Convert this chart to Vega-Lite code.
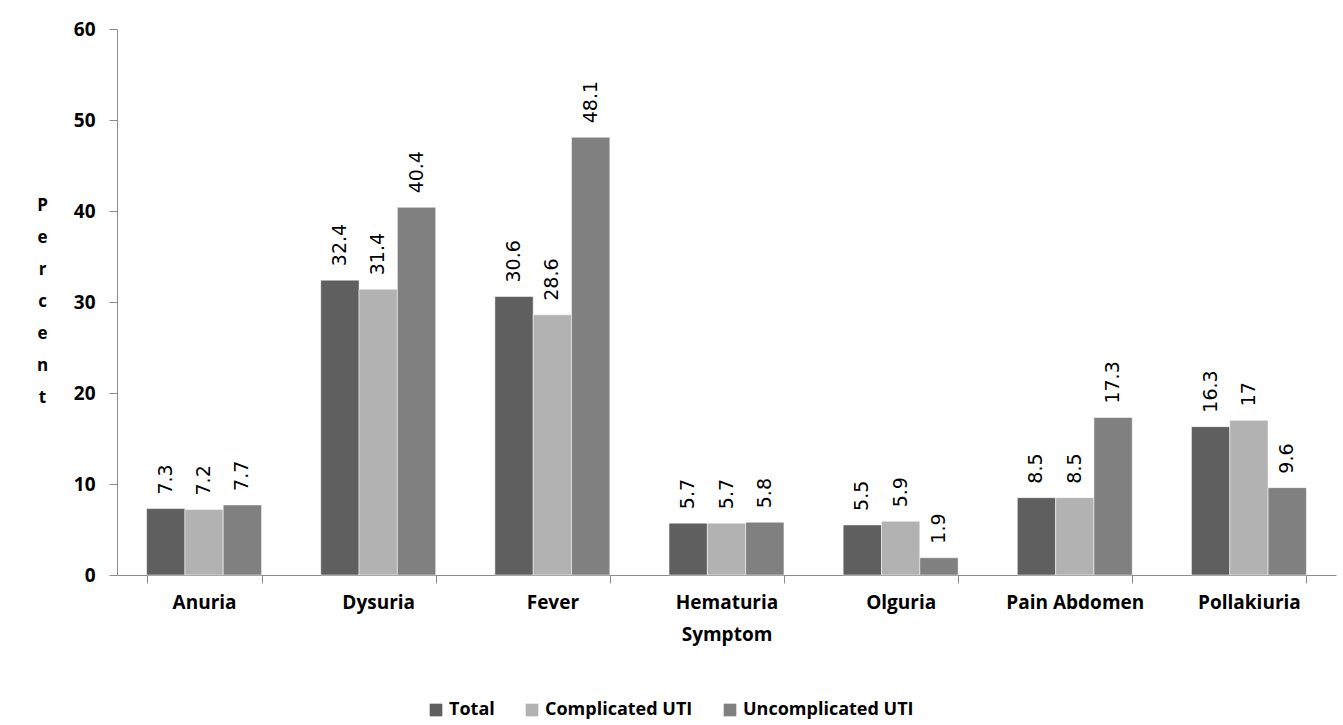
{
  "$schema": "https://vega.github.io/schema/vega-lite/v6.json",
  "autosize": "none",
  "width": 1219,
  "height": 546,
  "padding": {"left": 117, "top": 29, "right": 7, "bottom": 150},
  "background": "white",
  "config": {
    "view": {"stroke": null},
    "font": "Open Sans"
  },
  "data": {
    "values": [
      {"Symptom": "Anuria", "Group": "Total", "Percent": 7.3},
      {"Symptom": "Anuria", "Group": "Complicated UTI", "Percent": 7.2},
      {"Symptom": "Anuria", "Group": "Uncomplicated UTI", "Percent": 7.7},
      {"Symptom": "Dysuria", "Group": "Total", "Percent": 32.4},
      {"Symptom": "Dysuria", "Group": "Complicated UTI", "Percent": 31.4},
      {"Symptom": "Dysuria", "Group": "Uncomplicated UTI", "Percent": 40.4},
      {"Symptom": "Fever", "Group": "Total", "Percent": 30.6},
      {"Symptom": "Fever", "Group": "Complicated UTI", "Percent": 28.6},
      {"Symptom": "Fever", "Group": "Uncomplicated UTI", "Percent": 48.1},
      {"Symptom": "Hematuria", "Group": "Total", "Percent": 5.7},
      {"Symptom": "Hematuria", "Group": "Complicated UTI", "Percent": 5.7},
      {"Symptom": "Hematuria", "Group": "Uncomplicated UTI", "Percent": 5.8},
      {"Symptom": "Olguria", "Group": "Total", "Percent": 5.5},
      {"Symptom": "Olguria", "Group": "Complicated UTI", "Percent": 5.9},
      {"Symptom": "Olguria", "Group": "Uncomplicated UTI", "Percent": 1.9},
      {"Symptom": "Pain Abdomen", "Group": "Total", "Percent": 8.5},
      {"Symptom": "Pain Abdomen", "Group": "Complicated UTI", "Percent": 8.5},
      {"Symptom": "Pain Abdomen", "Group": "Uncomplicated UTI", "Percent": 17.3},
      {"Symptom": "Pollakiuria", "Group": "Total", "Percent": 16.3},
      {"Symptom": "Pollakiuria", "Group": "Complicated UTI", "Percent": 17},
      {"Symptom": "Pollakiuria", "Group": "Uncomplicated UTI", "Percent": 9.6}
    ]
  },
  "encoding": {
    "x": {
      "field": "Symptom",
      "type": "nominal",
      "sort": null,
      "scale": {"paddingInner": 0.34, "paddingOuter": 0.17},
      "axis": {
        "title": "Symptom",
        "labelAngle": 0,
        "labelFont": "Open Sans",
        "labelFontWeight": "bold",
        "labelFontSize": 19,
        "labelColor": "#000000",
        "labelPadding": 10,
        "tickBand": "extent",
        "tickSize": 8,
        "tickColor": "#8c8c8c",
        "domainColor": "#8c8c8c",
        "titleFont": "Open Sans",
        "titleFontWeight": "bold",
        "titleFontSize": 19,
        "titleColor": "#000000",
        "titlePadding": 13
      }
    },
    "xOffset": {
      "field": "Group",
      "type": "nominal",
      "sort": ["Total", "Complicated UTI", "Uncomplicated UTI"],
      "scale": {"paddingInner": 0, "paddingOuter": 0}
    },
    "y": {
      "field": "Percent",
      "type": "quantitative",
      "scale": {"domain": [0, 60], "nice": false},
      "axis": {
        "title": ["P", "e", "r", "c", "e", "n", "t"],
        "titleAngle": 0,
        "titleLineHeight": 32,
        "titleAlign": "center",
        "titleBaseline": "middle",
        "titleX": -75,
        "titleY": 176,
        "titleFont": "Open Sans",
        "titleFontWeight": "bold",
        "titleFontSize": 17,
        "titleColor": "#000000",
        "values": [0, 10, 20, 30, 40, 50, 60],
        "grid": false,
        "tickSize": 8,
        "tickColor": "#8c8c8c",
        "domainColor": "#8c8c8c",
        "labelFont": "Open Sans",
        "labelFontWeight": "bold",
        "labelFontSize": 19,
        "labelColor": "#000000",
        "labelPadding": 14
      }
    }
  },
  "layer": [
    {
      "mark": {"type": "bar", "stroke": "white", "strokeWidth": 0.5},
      "encoding": {
        "color": {
          "field": "Group",
          "type": "nominal",
          "sort": ["Total", "Complicated UTI", "Uncomplicated UTI"],
          "scale": {
            "domain": ["Total", "Complicated UTI", "Uncomplicated UTI"],
            "range": ["#5f5f5f", "#b2b2b2", "#808080"]
          },
          "legend": {
            "title": null,
            "orient": "none",
            "direction": "horizontal",
            "legendX": 310,
            "legendY": 672,
            "symbolType": "square",
            "symbolSize": 160,
            "symbolStrokeWidth": 0,
            "labelFont": "Open Sans",
            "labelFontWeight": "bold",
            "labelFontSize": 18,
            "labelColor": "#000000",
            "labelLimit": 400,
            "labelOffset": 4,
            "columnPadding": 28
          }
        }
      }
    },
    {
      "mark": {
        "type": "text",
        "angle": 270,
        "align": "left",
        "baseline": "middle",
        "dx": 14,
        "font": "DejaVu Sans",
        "fontSize": 19,
        "color": "#000000"
      },
      "encoding": {
        "text": {"field": "Percent", "type": "quantitative"}
      }
    }
  ]
}
